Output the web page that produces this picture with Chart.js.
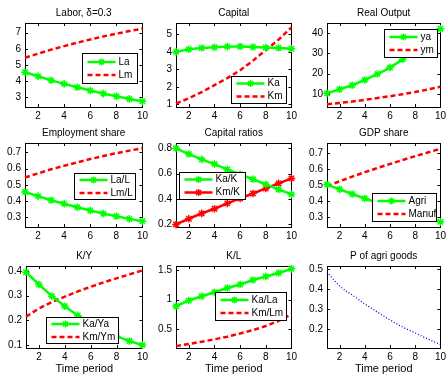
<!DOCTYPE html>
<html>
<head>
<meta charset="utf-8">
<script src="https://cdn.jsdelivr.net/npm/chart.js@4.4.1/dist/chart.umd.min.js"></script>
<style>
  html, body { margin: 0; padding: 0; background: #fff; overflow: hidden; width: 448px; height: 374px; }
  canvas { position: absolute; }
</style>
</head>
<body>
<script>
// ─── data ───
const periods = [1, 2, 3, 4, 5, 6, 7, 8, 9, 10];
const xTicks = [2, 4, 6, 8, 10];

const laborA = [4.55, 4.3, 4.05, 3.83, 3.62, 3.42, 3.23, 3.06, 2.9, 2.75];
const laborM = [5.45, 5.7, 5.95, 6.17, 6.38, 6.58, 6.77, 6.94, 7.1, 7.25];

const capA = [4.0, 4.15, 4.22, 4.26, 4.3, 4.31, 4.28, 4.25, 4.22, 4.18];
const capM = [1.05, 1.35, 1.7, 2.1, 2.5, 2.95, 3.5, 4.1, 4.7, 5.4];

const outA = [10.3, 12.3, 14.3, 16.9, 19.8, 23.0, 27.0, 31.8, 36.6, 42.1];
const outM = [5.0, 5.6, 6.3, 7.1, 8.0, 8.9, 9.9, 11.0, 12.2, 13.6];

const empShareA = [0.455, 0.43, 0.405, 0.383, 0.362, 0.342, 0.323, 0.306, 0.29, 0.275];
const empShareM = [0.545, 0.57, 0.595, 0.617, 0.638, 0.658, 0.677, 0.694, 0.71, 0.725];

const capRatioA = [0.8, 0.755, 0.713, 0.676, 0.634, 0.595, 0.556, 0.516, 0.476, 0.437];
const capRatioM = [0.2, 0.245, 0.287, 0.324, 0.366, 0.405, 0.444, 0.484, 0.524, 0.563];

const gdpAgri = [0.505, 0.475, 0.446, 0.418, 0.392, 0.367, 0.342, 0.318, 0.295, 0.272];
const gdpManuf = [0.495, 0.525, 0.554, 0.582, 0.608, 0.633, 0.658, 0.682, 0.705, 0.728];

const kyA = [0.395, 0.345, 0.298, 0.257, 0.22, 0.188, 0.16, 0.136, 0.116, 0.1];
const kyM = [0.215, 0.248, 0.274, 0.296, 0.317, 0.336, 0.354, 0.37, 0.386, 0.402];

const klA = [0.887, 0.983, 1.056, 1.124, 1.195, 1.254, 1.33, 1.39, 1.45, 1.52];
const klM = [0.21, 0.245, 0.285, 0.325, 0.37, 0.425, 0.48, 0.55, 0.64, 0.75];

const priceAgri = [0.485, 0.415, 0.37, 0.325, 0.285, 0.245, 0.21, 0.18, 0.15, 0.122];

// ─── styling ───
const FONT = '"Liberation Sans", Arial, Helvetica, sans-serif';
const FS = 10;
const GREEN = '#00ff00', RED = '#ff0000', BLUE = '#0000ff';

const pts = arr => periods.map((x, i) => ({ x, y: arr[i] }));

function starLine(label, arr, color) {
  return { label, data: pts(arr), borderColor: color, backgroundColor: color, borderWidth: 2.5,
    pointStyle: 'star', pointRadius: 3.8, pointBorderWidth: 1.5, pointBorderColor: color,
    clip: false, _kind: 'star' };
}
function dashLine(label, arr, color) {
  return { label, data: pts(arr), borderColor: color, borderWidth: 2.5, borderDash: [5, 3],
    pointRadius: 0, clip: false, _kind: 'dash' };
}
function dotLine(label, arr, color) {
  return { label, data: pts(arr), borderColor: color, borderWidth: 1.3, borderDash: [1, 2],
    pointRadius: 0, cubicInterpolationMode: 'monotone', clip: false, _kind: 'dot' };
}

// box = plot area on the page [left, top, right, bottom]; legend = [left, top, w, h] on the page
const panels = [
  { title: 'Labor, δ=0.3', box: [25, 22.5, 143, 107], y: [2.4, 7.6], yTicks: [3, 4, 5, 6, 7],
    sets: [starLine('La', laborA, GREEN), dashLine('Lm', laborM, RED)], legend: [82, 52, 55, 30] },
  { title: 'Capital', box: [176, 22.5, 292, 107], y: [0.85, 5.65], yTicks: [1, 2, 3, 4, 5],
    sets: [starLine('Ka', capA, GREEN), dashLine('Km', capM, RED)], legend: [231, 75, 55, 27] },
  { title: 'Real Output', box: [327, 22.5, 441, 107], y: [3.6, 44.9], yTicks: [10, 20, 30, 40],
    sets: [starLine('ya', outA, GREEN), dashLine('ym', outM, RED)], legend: [384, 28, 53, 28] },
  { title: 'Employment share', box: [25, 143, 143, 227], y: [0.24, 0.757], yTicks: [0.3, 0.4, 0.5, 0.6, 0.7],
    sets: [starLine('La/L', empShareA, GREEN), dashLine('Lm/L', empShareM, RED)], legend: [74, 173, 61, 26] },
  { title: 'Capital ratios', box: [176, 143, 292, 227], y: [0.18, 0.842], yTicks: [0.2, 0.4, 0.6, 0.8],
    sets: [starLine('Ka/K', capRatioA, GREEN), starLine('Km/K', capRatioM, RED)], legend: [179, 172, 66, 27] },
  { title: 'GDP share', box: [327, 143, 441, 227], y: [0.24, 0.764], yTicks: [0.3, 0.4, 0.5, 0.6, 0.7],
    sets: [starLine('Agri', gdpAgri, GREEN), dashLine('Manuf', gdpManuf, RED)], legend: [372, 193, 64, 28] },
  { title: 'K/Y', box: [26, 266, 143, 348], y: [0.088, 0.42], yTicks: [0.1, 0.2, 0.3, 0.4],
    sets: [starLine('Ka/Ya', kyA, GREEN), dashLine('Km/Ym', kyM, RED)], legend: [46, 317, 72, 26], xTitle: true },
  { title: 'K/L', box: [176, 266, 292, 348], y: [0.178, 1.568], yTicks: [0.5, 1, 1.5],
    sets: [starLine('Ka/La', klA, GREEN), dashLine('Km/Lm', klM, RED)], legend: [215, 292, 71, 28], xTitle: true },
  { title: 'P of agri goods', box: [327, 266, 441, 348], y: [0.105, 0.515], yTicks: [0.2, 0.3, 0.4, 0.5],
    sets: [dotLine('P', priceAgri, BLUE)], legend: null, xTitle: true },
];

// ─── helpers ───
function drawStar(ctx, x, y, r) {
  ctx.beginPath();
  for (let a = 0; a < 4; a++) {
    const t = a * Math.PI / 4;
    ctx.moveTo(x - r * Math.cos(t), y - r * Math.sin(t));
    ctx.lineTo(x + r * Math.cos(t), y + r * Math.sin(t));
  }
  ctx.stroke();
}

const matlabAxes = {
  id: 'matlabAxes',
  beforeDatasetsDraw(chart) {
    const { ctx, chartArea: a, scales } = chart;
    ctx.save();
    ctx.strokeStyle = '#000';
    ctx.lineWidth = 1;
    ctx.strokeRect(Math.round(a.left) + 0.5, Math.round(a.top) + 0.5,
      Math.round(a.right - a.left), Math.round(a.bottom - a.top));
    ctx.beginPath();
    scales.x.ticks.forEach(t => {
      const px = Math.round(scales.x.getPixelForValue(t.value)) + 0.5;
      ctx.moveTo(px, a.bottom); ctx.lineTo(px, a.bottom - 3);
      ctx.moveTo(px, a.top); ctx.lineTo(px, a.top + 3);
    });
    scales.y.ticks.forEach(t => {
      const py = Math.round(scales.y.getPixelForValue(t.value)) + 0.5;
      ctx.moveTo(a.left, py); ctx.lineTo(a.left + 3, py);
      ctx.moveTo(a.right, py); ctx.lineTo(a.right - 3, py);
    });
    ctx.stroke();
    ctx.restore();
  },
  afterDatasetsDraw(chart, args, opts) {
    const { ctx, chartArea: a } = chart;
    ctx.save();
    ctx.fillStyle = '#000';
    ctx.font = FS + 'px ' + FONT;
    ctx.textAlign = 'center';
    ctx.textBaseline = 'middle';
    ctx.fillText(opts.title, (a.left + a.right) / 2, a.top - 10);

    if (opts.legend) {
      const [lx, ly, w, h] = opts.legend;
      const x = Math.round(a.left + lx - opts.box[0]) + 0.5;
      const y = Math.round(a.top + ly - opts.box[1]) + 0.5;
      ctx.fillStyle = '#fff';
      ctx.fillRect(x, y, w, h);
      ctx.strokeStyle = '#000';
      ctx.lineWidth = 1;
      ctx.strokeRect(x, y, w, h);
      chart.data.datasets.forEach((ds, i) => {
        const ry = y + h / 2 + (i === 0 ? -6.5 : 6.5);
        ctx.strokeStyle = ds.borderColor;
        ctx.lineWidth = 2.5;
        ctx.setLineDash(ds._kind === 'dash' ? [5, 3] : []);
        ctx.beginPath();
        ctx.moveTo(x + 5, ry); ctx.lineTo(x + 33, ry);
        ctx.stroke();
        ctx.setLineDash([]);
        if (ds._kind === 'star') { ctx.lineWidth = 1.5; drawStar(ctx, x + 19, ry, 3.5); }
        ctx.fillStyle = '#000';
        ctx.textAlign = 'left';
        ctx.fillText(ds.label, x + 36, ry);
      });
    }
    ctx.restore();
  }
};

function buildPanel(p) {
  const [L, T, R, B] = p.box;
  const xh = p.xTitle ? 34 : 17;
  const cv = document.createElement('canvas');
  cv.width = (R - L) + 30 + 8;
  cv.height = (B - T) + 23 + xh;
  cv.style.left = (L - 30) + 'px';
  cv.style.top = (T - 23) + 'px';
  document.body.appendChild(cv);

  const tickFont = { family: FONT, size: FS };
  new Chart(cv, {
    type: 'line',
    data: { datasets: p.sets },
    options: {
      responsive: false, animation: false, events: [],
      layout: { padding: { left: 0, right: 8, top: 23, bottom: 0 } },
      plugins: { legend: { display: false }, tooltip: { enabled: false },
        matlabAxes: { title: p.title, legend: p.legend, box: p.box } },
      scales: {
        x: {
          type: 'linear', min: 1, max: 10,
          grid: { display: false, drawTicks: false }, border: { display: false },
          ticks: { color: '#000', font: tickFont, padding: 3, maxRotation: 0, callback: v => String(v) },
          afterBuildTicks: s => { s.ticks = xTicks.map(v => ({ value: v })); },
          afterFit: s => { s.height = xh; },
          title: { display: !!p.xTitle, text: 'Time period', color: '#000',
            font: { family: FONT, size: 11 }, padding: { top: 0, bottom: 6 } }
        },
        y: {
          type: 'linear', min: p.y[0], max: p.y[1],
          grid: { display: false, drawTicks: false }, border: { display: false },
          ticks: { color: '#000', font: tickFont, padding: 4, callback: v => String(v) },
          afterBuildTicks: s => { s.ticks = p.yTicks.map(v => ({ value: v })); },
          afterFit: s => { s.width = 30; }
        }
      }
    },
    plugins: [matlabAxes]
  });
}

panels.forEach(buildPanel);
</script>
</body>
</html>
